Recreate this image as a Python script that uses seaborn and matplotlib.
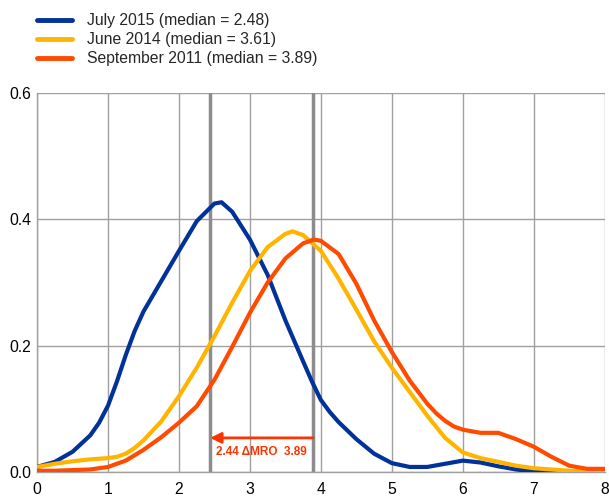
import matplotlib
matplotlib.use("Agg")
import matplotlib.pyplot as plt
import seaborn as sns
import pandas as pd

# --- data ---
blue_x = [0, 0.25, 0.5, 0.75, 0.875, 1, 1.125, 1.25, 1.375, 1.5, 1.75, 2, 2.25, 2.5, 2.6, 2.75,
          3, 3.25, 3.5, 3.75, 3.875, 4, 4.125, 4.25, 4.5, 4.75, 5, 5.25, 5.5, 5.75, 6, 6.25,
          6.5, 6.75, 7, 7.25, 7.5, 7.75, 8]
blue_y = [0.008, 0.016, 0.032, 0.058, 0.078, 0.105, 0.143, 0.185, 0.223, 0.254, 0.302, 0.35,
          0.397, 0.425, 0.427, 0.412, 0.368, 0.312, 0.24, 0.175, 0.143, 0.114, 0.095, 0.079,
          0.052, 0.029, 0.014, 0.008, 0.008, 0.013, 0.018, 0.015, 0.009, 0.004, 0.001, 0.0,
          0.0, 0.0, 0.0]

yellow_x = [0, 0.25, 0.5, 0.75, 1, 1.125, 1.25, 1.375, 1.5, 1.75, 2, 2.25, 2.5, 2.75, 3, 3.25,
            3.5, 3.6, 3.75, 4, 4.25, 4.5, 4.75, 5, 5.25, 5.5, 5.75, 6, 6.25, 6.5, 6.75, 7,
            7.25, 7.5, 7.75, 8]
yellow_y = [0.008, 0.013, 0.017, 0.02, 0.022, 0.024, 0.029, 0.038, 0.05, 0.08, 0.12, 0.165,
            0.215, 0.268, 0.318, 0.356, 0.377, 0.381, 0.375, 0.35, 0.306, 0.257, 0.207, 0.165,
            0.127, 0.089, 0.054, 0.031, 0.022, 0.016, 0.01, 0.006, 0.004, 0.002, 0.001, 0.0]

orange_x = [0, 0.25, 0.5, 0.75, 1, 1.25, 1.5, 1.75, 2, 2.25, 2.5, 2.75, 3, 3.25, 3.5, 3.75, 3.9,
            4, 4.25, 4.5, 4.75, 5, 5.25, 5.5, 5.625, 5.75, 5.875, 6, 6.25, 6.5, 6.75, 7, 7.125,
            7.25, 7.5, 7.75, 8]
orange_y = [0.002, 0.002, 0.003, 0.004, 0.008, 0.018, 0.035, 0.055, 0.078, 0.104, 0.146, 0.198,
            0.252, 0.30, 0.338, 0.362, 0.368, 0.366, 0.345, 0.298, 0.24, 0.19, 0.145, 0.108,
            0.093, 0.081, 0.072, 0.067, 0.062, 0.062, 0.052, 0.04, 0.032, 0.024, 0.01, 0.005,
            0.005]

labels = ["July 2015 (median = 2.48)", "June 2014 (median = 3.61)", "September 2011 (median = 3.89)"]
colors = ["#003299", "#ffb400", "#ff4b00"]
median_lines = [2.44, 3.89]
arrow_y = 0.054
arrow_text = "2.44 \u0394MRO  3.89"

df = pd.concat([
    pd.DataFrame({"x": blue_x, "y": blue_y, "serie": labels[0]}),
    pd.DataFrame({"x": yellow_x, "y": yellow_y, "serie": labels[1]}),
    pd.DataFrame({"x": orange_x, "y": orange_y, "serie": labels[2]}),
])

sns.set_style("white")
plt.rcParams["font.family"] = ["Liberation Sans", "DejaVu Sans"]

fig = plt.figure(figsize=(6.09, 4.97), dpi=100)
ax = fig.add_axes([0.0608, 0.0503, 0.9322, 0.7626])

# grid
ax.set_xticks(range(0, 9))
ax.set_yticks([0.0, 0.2, 0.4, 0.6])
ax.set_yticklabels(["0.0", "0.2", "0.4", "0.6"])
ax.grid(True, color="#a0a0a0", linewidth=1)
ax.set_axisbelow(True)

# median markers
for m in median_lines:
    ax.axvline(m, color="#8c8c8c", linewidth=2.5, zorder=1)

sns.lineplot(data=df, x="x", y="y", hue="serie", palette=colors, linewidth=3,
             ax=ax, legend=False, zorder=3, solid_joinstyle="round", solid_capstyle="round")

ax.set_xlim(0, 8)
ax.set_ylim(0, 0.6)
ax.set_xlabel("")
ax.set_ylabel("")
for s in ["top", "right"]:
    ax.spines[s].set_visible(False)
for s in ["left", "bottom"]:
    ax.spines[s].set_color("#a0a0a0")
    ax.spines[s].set_linewidth(1)
ax.tick_params(axis="x", length=5, color="#a0a0a0", labelsize=11.3, pad=2, labelcolor="black")
ax.tick_params(axis="y", length=0, labelsize=11.3, pad=4, labelcolor="black")

# arrow + label
ax.annotate("", xy=(median_lines[0], arrow_y), xytext=(median_lines[1], arrow_y),
            arrowprops=dict(arrowstyle="-|>", color="#ff3300", lw=2, mutation_scale=16,
                            shrinkA=0, shrinkB=0), zorder=4)
ax.text(sum(median_lines) / 2, 0.031, arrow_text, color="#ff3300", fontsize=8.5,
        fontweight="bold", ha="center", va="center", zorder=4)

# legend at top left
handles = [plt.Line2D([0], [0], color=c, linewidth=3.5) for c in colors]
fig.legend(handles, labels, loc="upper left", bbox_to_anchor=(0.061, 0.973),
           frameon=False, fontsize=11.3, handlelength=2.2, handletextpad=0.95,
           labelspacing=0.25, borderpad=0, borderaxespad=0)

plt.savefig("out.png", dpi=100)
